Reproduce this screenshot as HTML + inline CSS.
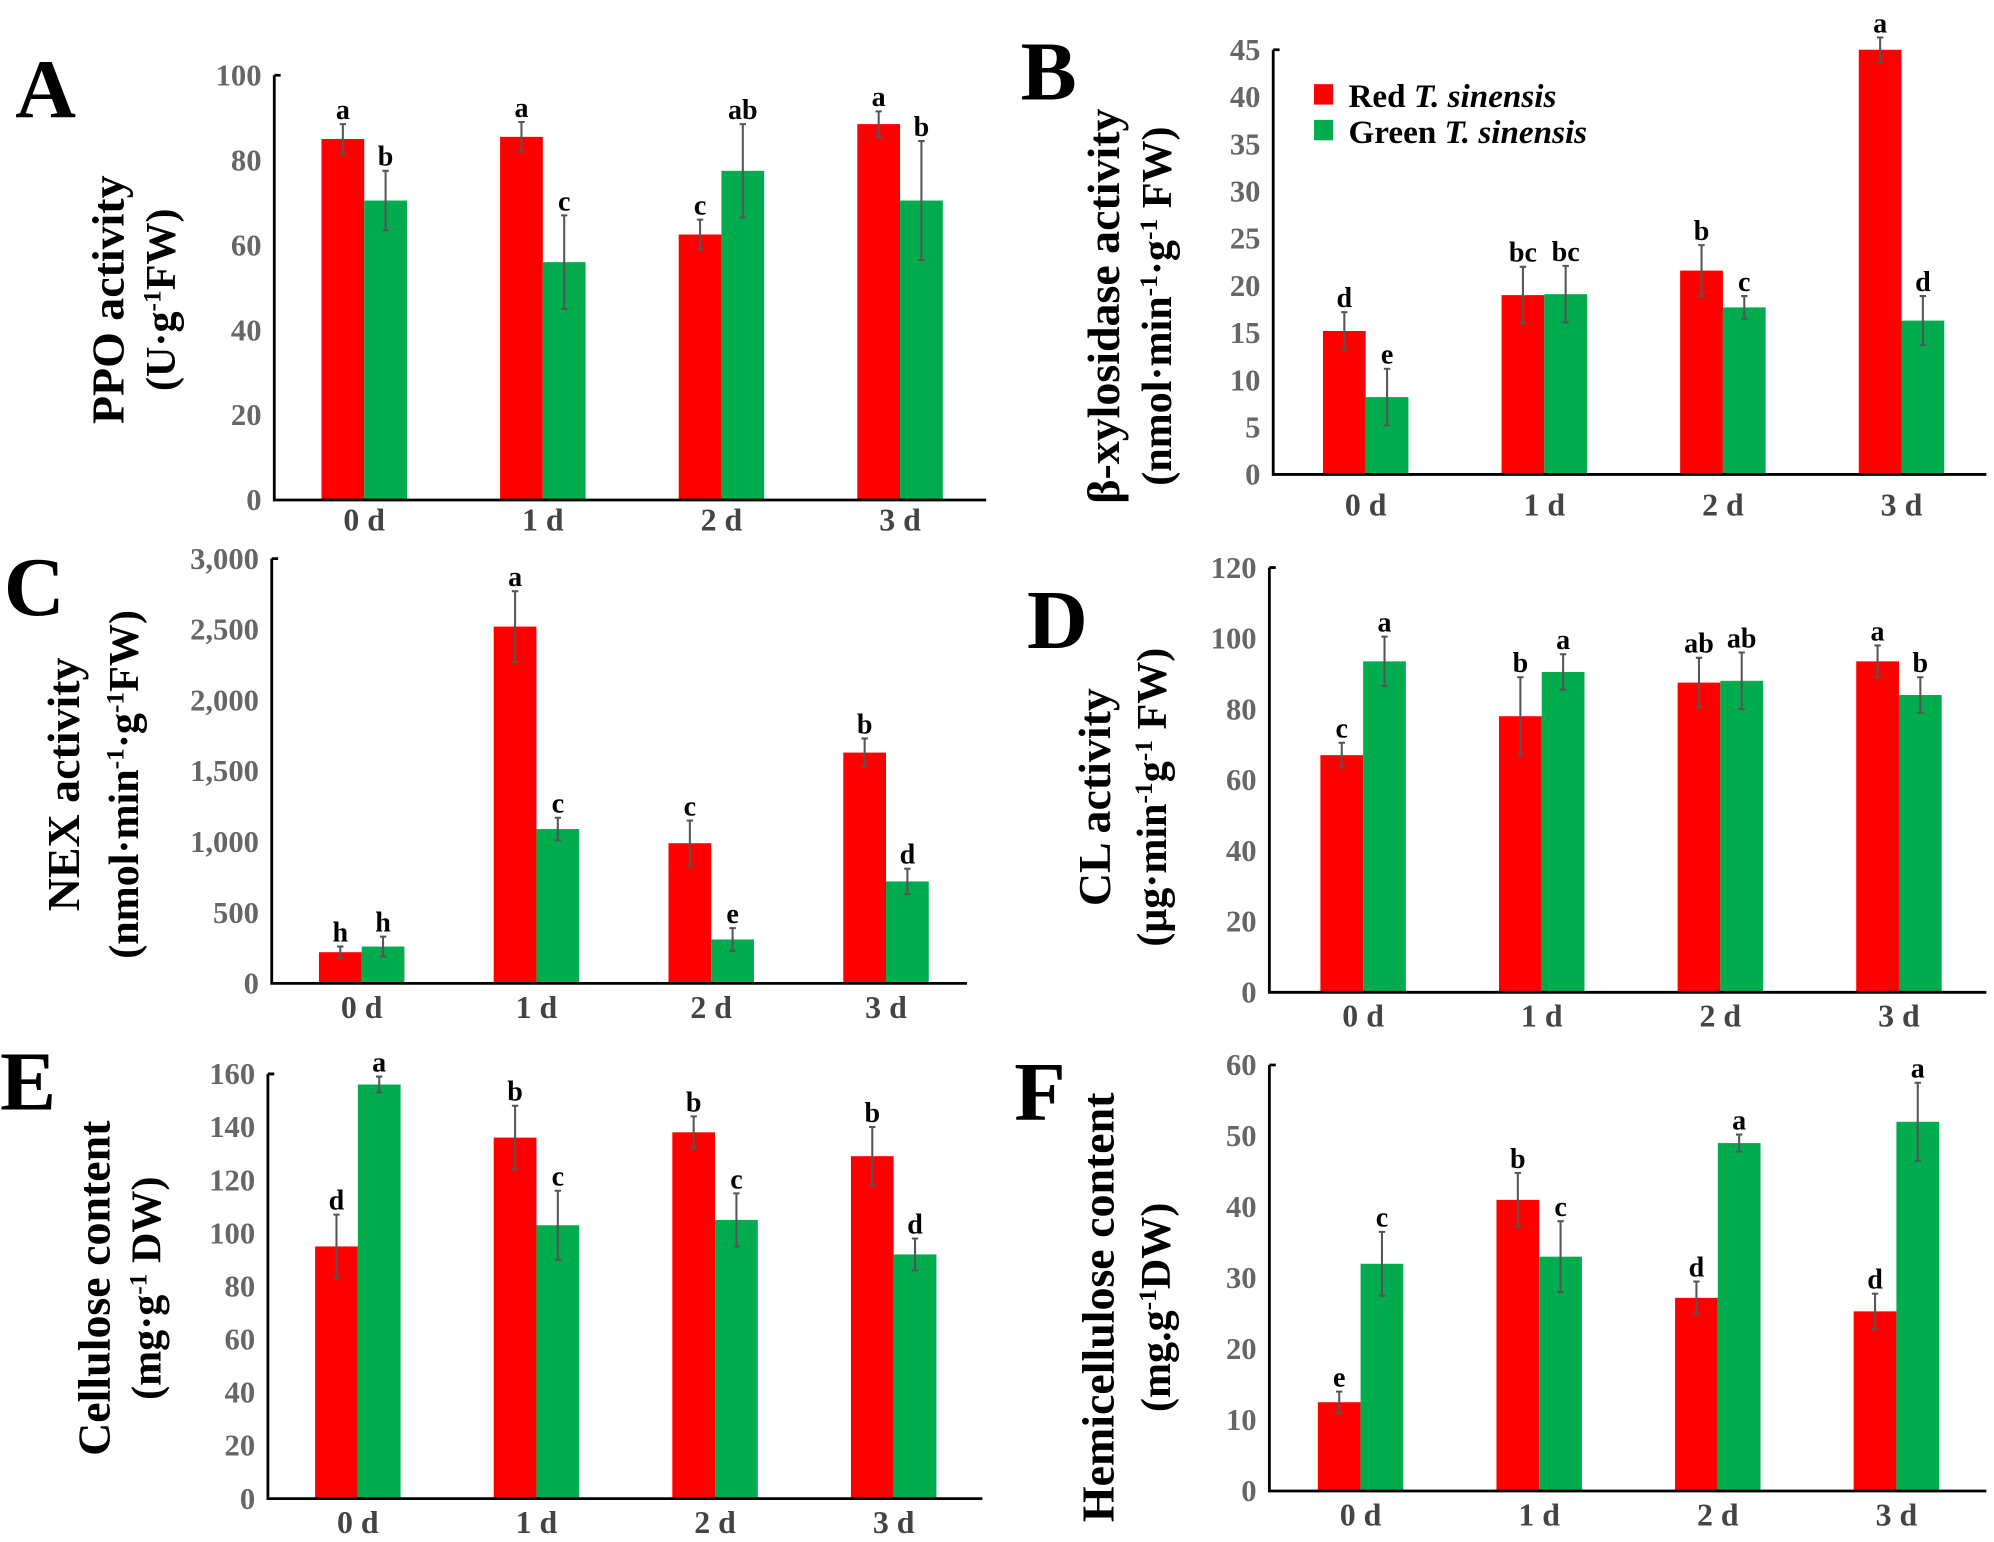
<!DOCTYPE html>
<html><head><meta charset="utf-8"><style>
html,body{margin:0;padding:0;background:#fff;}
svg{display:block;font-family:"Liberation Serif",serif;}
</style></head><body>
<svg id="fig" width="1994" height="1542" viewBox="0 0 1563 1209" preserveAspectRatio="none" xmlns="http://www.w3.org/2000/svg"></svg>
<script>
const categories = ["0 d","1 d","2 d","3 d"];
const aRed=[85,85.5,62.5,88.5], aRedErr=[3.5,3.5,3.5,3], aGreen=[70.5,56,77.5,70.5], aGreenErr=[7,11,11,14];
const aRedLet=["a","a","c","a"], aGreenLet=["b","c","ab","b"];
const bRed=[15.2,19,21.6,45], bRedErr=[2,3,2.7,1.3], bGreen=[8.2,19.1,17.7,16.3], bGreenErr=[3,3,1.2,2.6];
const bRedLet=["d","bc","b","a"], bGreenLet=["e","bc","c","d"];
const cRed=[220,2520,990,1630], cRedErr=[40,250,160,100], cGreen=[260,1090,310,720], cGreenErr=[70,80,80,90];
const cRedLet=["h","a","c","b"], cGreenLet=["h","c","e","d"];
const dRed=[67,78,87.5,93.5], dRedErr=[3.5,11,7,4.5], dGreen=[93.5,90.5,88,84], dGreenErr=[7,5,8,5];
const dRedLet=["c","b","ab","a"], dGreenLet=["a","a","ab","b"];
const eRed=[95,136,138,129], eRedErr=[12,12,6,11], eGreen=[156,103,105,92], eGreenErr=[3,13,10,6];
const eRedLet=["d","b","b","b"], eGreenLet=["a","c","c","d"];
const fRed=[12.5,41,27.2,25.3], fRedErr=[1.5,3.8,2.3,2.5], fGreen=[32,33,49,52], fGreenErr=[4.5,5,1.2,5.5];
const fRedLet=["e","b","d","d"], fGreenLet=["c","c","a","a"];
const aTicks=[0,20,40,60,80,100], bTicks=[0,5,10,15,20,25,30,35,40,45];
const cTicks=["0","500","1,000","1,500","2,000","2,500","3,000"], cTickVals=[0,500,1000,1500,2000,2500,3000];
const dTicks=[0,20,40,60,80,100,120], eTicks=[0,20,40,60,80,100,120,140,160], fTicks=[0,10,20,30,40,50,60];

const NS="http://www.w3.org/2000/svg", svg=document.getElementById('fig');
function mk(tag,attrs,parent,text){const e=document.createElementNS(NS,tag);for(const k in attrs)e.setAttribute(k,attrs[k]);if(text!==undefined)e.textContent=text;(parent||svg).appendChild(e);return e;}

function panel(p){
  const g=mk('g',{});
  
  
  const max=p.tickVals[p.tickVals.length-1];
  const y=v=>p.y0-(v/max)*(p.y0-p.yTop);
  const bw=33.5;
  const L=mk('text',{x:p.lx,y:p.ly,'font-size':66,'font-weight':'bold'},g,p.id);
  
  
  p.tickVals.forEach((v,i)=>{
    const t=mk('text',{x:p.ax-10,y:y(v)+8,'font-size':24,'font-weight':'bold',fill:'#666','text-anchor':'end'},g,p.tickLabels[i]);
    
    
  });
  function series(vals,errs,lets,off,col,nm){
    vals.forEach((v,i)=>{
      const x=p.r0+i*p.sp+off;
      const r=mk('rect',{x:x,y:y(v),width:bw,height:p.y0-y(v),fill:col},g);
      
      
      const cx=x+bw/2, t=y(v+errs[i]), b=y(v-errs[i]);
      const eb=mk('path',{d:`M${cx},${t}V${b}M${cx-2.5},${t}H${cx+2.5}M${cx-2.5},${b}H${cx+2.5}`,stroke:'#555','stroke-width':1.6,fill:'none'},g);
      
      
      const lt=mk('text',{x:cx,y:t-4,'font-size':22,'font-weight':'bold','text-anchor':'middle'},g,lets[i]);
      
      
    });
  }
  series(p.red,p.redErr,p.redLet,0,'#ff0000','red');
  series(p.green,p.greenErr,p.greenLet,bw,'#00ac4e','green');
  const ax=mk('path',{d:`M${p.ax},${p.yTop}V${p.y0}H${p.xEnd}M${p.ax},${p.yTop}h5`,stroke:'#000','stroke-width':2.2,fill:'none'},g);
  
  
  categories.forEach((c,i)=>{
    const t=mk('text',{x:p.r0+i*p.sp+bw,y:p.y0+p.xl,'font-size':25,'font-weight':'bold',fill:'#444','text-anchor':'middle'},g,c);
    
    
  });
  const t1=mk('text',{transform:`translate(${p.t1x},${p.tcy}) rotate(-90)`,'font-size':36,'font-weight':'bold','text-anchor':'middle'},g,p.title1);
  
  
  const t2=mk('text',{transform:`translate(${p.t2x},${p.tcy}) rotate(-90)`,'font-size':33,'font-weight':'bold','text-anchor':'middle'},g);
  t2.innerHTML=p.title2;
  
  
}
const sup='<tspan dy="-11" font-size="20">-1</tspan><tspan dy="11">';
panel({id:'A',lx:12,ly:92,ax:215,yTop:59,y0:392,xEnd:773,r0:252,sp:140,xl:24,tickVals:aTicks,tickLabels:aTicks.map(String),
 red:aRed,redErr:aRedErr,redLet:aRedLet,green:aGreen,greenErr:aGreenErr,greenLet:aGreenLet,
 t1x:97,t2x:137,tcy:235,title1:'PPO activity',title2:'(U·g'+sup+'FW)</tspan>'});
panel({id:'B',lx:800,ly:78,ax:998,yTop:39,y0:372,xEnd:1557,r0:1037,sp:140,xl:32,tickVals:bTicks,tickLabels:bTicks.map(String),
 red:bRed,redErr:bRedErr,redLet:bRedLet,green:bGreen,greenErr:bGreenErr,greenLet:bGreenLet,
 t1x:877,t2x:918,tcy:240,title1:'β-xylosidase activity',title2:'(nmol·min'+sup+'·g</tspan>'+sup+' FW)</tspan>'});
panel({id:'C',lx:3,ly:482,ax:213,yTop:438,y0:771,xEnd:758,r0:250,sp:137,xl:27,tickVals:cTickVals,tickLabels:cTicks,
 red:cRed,redErr:cRedErr,redLet:cRedLet,green:cGreen,greenErr:cGreenErr,greenLet:cGreenLet,
 t1x:62,t2x:108,tcy:615,title1:'NEX activity',title2:'(nmol·min'+sup+'·g</tspan>'+sup+'FW)</tspan>'});
panel({id:'D',lx:805,ly:508,ax:995,yTop:445,y0:778,xEnd:1557,r0:1035,sp:140,xl:27,tickVals:dTicks,tickLabels:dTicks.map(String),
 red:dRed,redErr:dRedErr,redLet:dRedLet,green:dGreen,greenErr:dGreenErr,greenLet:dGreenLet,
 t1x:870,t2x:914,tcy:625,title1:'CL activity',title2:'(μg·min'+sup+'g</tspan>'+sup+' FW)</tspan>'});
panel({id:'E',lx:0,ly:870,ax:210,yTop:842,y0:1175,xEnd:770,r0:247,sp:140,xl:27,tickVals:eTicks,tickLabels:eTicks.map(String),
 red:eRed,redErr:eRedErr,redLet:eRedLet,green:eGreen,greenErr:eGreenErr,greenLet:eGreenLet,
 t1x:86,t2x:126,tcy:1010,title1:'Cellulose content',title2:'(mg·g'+sup+' DW)</tspan>'});
panel({id:'F',lx:795,ly:878,ax:995,yTop:835,y0:1169,xEnd:1557,r0:1033,sp:140,xl:27,tickVals:fTicks,tickLabels:fTicks.map(String),
 red:fRed,redErr:fRedErr,redLet:fRedLet,green:fGreen,greenErr:fGreenErr,greenLet:fGreenLet,
 t1x:873,t2x:917,tcy:1025,title1:'Hemicellulose content',title2:'(mg.g'+sup+'DW)</tspan>'});
const lg=mk('g',{});


const r1=mk('rect',{x:1030,y:66,width:15,height:16,fill:'#ff0000'},lg);


const r2=mk('rect',{x:1030,y:94,width:15,height:16,fill:'#00ac4e'},lg);


const l1=mk('text',{x:1057,y:84,'font-size':26,'font-weight':'bold'},lg);
l1.innerHTML='Red <tspan font-style="italic">T. sinensis</tspan>';


const l2=mk('text',{x:1057,y:112,'font-size':26,'font-weight':'bold'},lg);
l2.innerHTML='Green <tspan font-style="italic">T. sinensis</tspan>';


</script>
</body></html>
